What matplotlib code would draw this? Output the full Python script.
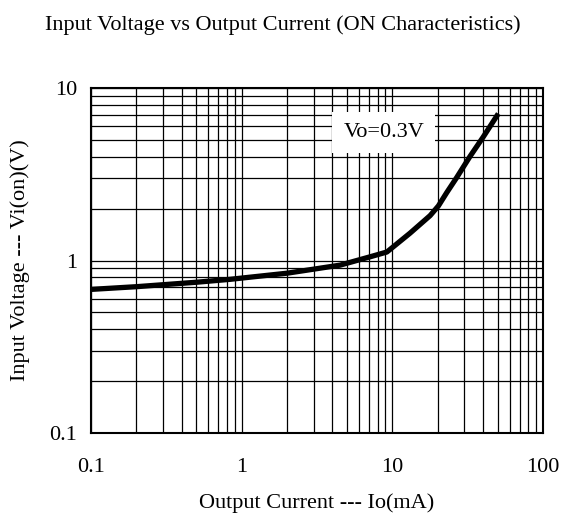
import numpy as np
import matplotlib.pyplot as plt
from matplotlib.ticker import LogLocator, NullFormatter, FixedLocator, FixedFormatter

# Curve (Vo = 0.3V)
io_ma = [0.1, 0.2, 0.5, 0.84, 2, 4.5, 7.1, 9.2, 13.1, 17.8, 20.2, 23, 26.7, 32.7, 40.1, 50.5]
vi_on = [0.68, 0.705, 0.748, 0.778, 0.844, 0.94, 1.05, 1.12, 1.44, 1.82, 2.07, 2.48, 3.02, 4.0, 5.2, 7.1]

x_ticks = [0.1, 1, 10, 100]
x_labels = ['0.1', '1', '10', '100']
y_ticks = [0.1, 1, 10]
y_labels = ['0.1', '1', '10']

plt.rcParams['font.family'] = ['Liberation Serif', 'DejaVu Serif']

fig = plt.figure(figsize=(5.62, 5.25), dpi=100)
ax = fig.add_axes([91 / 562, 1 - 433 / 525, (543 - 91) / 562, (433 - 88) / 525])

ax.set_xscale('log')
ax.set_yscale('log')
ax.set_xlim(0.1, 100)
ax.set_ylim(0.1, 10)

ax.xaxis.set_major_locator(FixedLocator(x_ticks))
ax.xaxis.set_major_formatter(FixedFormatter(x_labels))
ax.yaxis.set_major_locator(FixedLocator(y_ticks))
ax.yaxis.set_major_formatter(FixedFormatter(y_labels))
ax.xaxis.set_minor_locator(LogLocator(base=10, subs=np.arange(2, 10)))
ax.yaxis.set_minor_locator(LogLocator(base=10, subs=np.arange(2, 10)))
ax.xaxis.set_minor_formatter(NullFormatter())
ax.yaxis.set_minor_formatter(NullFormatter())

ax.grid(True, which='both', color='black', lw=0.9)
ax.set_axisbelow(True)
ax.tick_params(which='both', length=0, labelsize=16)
ax.tick_params(axis='x', pad=18)
ax.tick_params(axis='y', pad=10)
for s in ax.spines.values():
    s.set_linewidth(1.5)

ax.plot(io_ma, vi_on, color='black', lw=3.8, solid_capstyle='butt', zorder=3)

ax.text(0.648, 0.872, 'Vo=0.3V', fontsize=16, ha='center', va='center', zorder=4,
        transform=ax.transAxes,
        bbox=dict(facecolor='white', edgecolor='none', pad=8))

ax.set_xlabel('Output Current --- Io(mA)', fontsize=16, labelpad=12)
ax.set_ylabel('Input Voltage --- Vi(on)(V)', fontsize=16, labelpad=14)
fig.text(283 / 562, 1 - 25 / 525, 'Input Voltage vs Output Current (ON Characteristics)',
         fontsize=16, ha='center', va='center')

plt.savefig('out.png', dpi=100)
